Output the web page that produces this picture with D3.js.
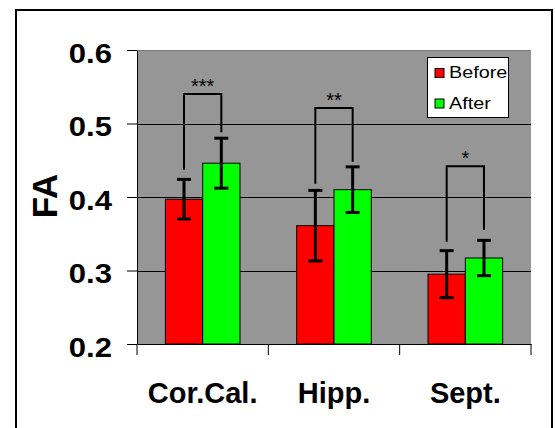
<!DOCTYPE html>
<html>
<head>
<meta charset="utf-8">
<script src="https://cdn.jsdelivr.net/npm/d3@7"></script>
<style>
  body { margin: 0; background: #fff; }
  svg { display: block; font-family: "Liberation Sans", Arial, sans-serif; }
</style>
</head>
<body>
<svg id="chart" width="555" height="428"></svg>
<script>
// chart data
var categories = ["Cor.Cal.", "Hipp.", "Sept."];
var seriesNames = ["Before", "After"];
var beforeVals = [0.397, 0.361, 0.295];
var afterVals = [0.446, 0.410, 0.317];
var beforeErr = [0.027, 0.048, 0.032];
var afterErr = [0.034, 0.031, 0.024];
var sigStars = ["***", "**", "*"];
var bracketTop = [0.540, 0.521, 0.442];
var bracketLeftEnd = [0.437, 0.418, 0.339];
var bracketRightEnd = [0.488, 0.448, 0.355];
var yTicks = [0.2, 0.3, 0.4, 0.5, 0.6];

var colors = {Before: "#ff0000", After: "#00ff00"};
var svg = d3.select("#chart");

// outer frame
svg.append("rect")
   .attr("x", 16).attr("y", 10)
   .attr("width", 536).attr("height", 440)
   .style("fill", "#fff").style("stroke", "#000").style("stroke-width", 2);

var plot = {left: 137, right: 531, top: 50, bottom: 344};

var x = d3.scaleBand().domain(categories).range([plot.left, plot.right]);
var xs = d3.scaleBand().domain(seriesNames).range([0, x.bandwidth()]).paddingOuter(0.76);
var y = d3.scaleLinear().domain([0.2, 0.6]).range([plot.bottom, plot.top]);

// plot area
svg.append("rect")
   .attr("x", plot.left).attr("y", plot.top)
   .attr("width", plot.right - plot.left).attr("height", plot.bottom - plot.top)
   .style("fill", "#969696");
svg.append("line")
   .attr("x1", plot.left).attr("x2", plot.right)
   .attr("y1", plot.top + 0.5).attr("y2", plot.top + 0.5)
   .style("stroke", "#7a7a7a");

// gridlines
svg.append("g").selectAll("line")
   .data(yTicks.filter(function(d){ return d > 0.2 && d < 0.6; }))
   .enter().append("line")
   .attr("x1", plot.left).attr("x2", plot.right)
   .attr("y1", function(d){ return Math.round(y(d)) + 0.5; })
   .attr("y2", function(d){ return Math.round(y(d)) + 0.5; })
   .style("stroke", "#000");

// rows for bars
var rows = [];
categories.forEach(function(c, i){
    rows.push({cat: c, s: "Before", v: beforeVals[i], e: beforeErr[i]});
    rows.push({cat: c, s: "After", v: afterVals[i], e: afterErr[i]});
});

var barG = svg.append("g");
barG.selectAll("rect")
    .data(rows)
    .enter().append("rect")
    .attr("x", function(d){ return x(d.cat) + xs(d.s); })
    .attr("y", function(d){ return y(d.v); })
    .attr("width", xs.bandwidth())
    .attr("height", function(d){ return y(0.2) - y(d.v); })
    .style("fill", function(d){ return colors[d.s]; })
    .style("stroke", "#000").style("stroke-width", 1);

// error bars
var cx = function(d){ return x(d.cat) + xs(d.s) + xs.bandwidth() / 2; };
var errG = svg.append("g").style("stroke", "#000").style("stroke-width", 3);
errG.selectAll(".stem").data(rows).enter().append("line")
    .attr("x1", cx).attr("x2", cx)
    .attr("y1", function(d){ return y(d.v + d.e); })
    .attr("y2", function(d){ return y(d.v - d.e); });
errG.selectAll(".capTop").data(rows).enter().append("line")
    .attr("x1", function(d){ return cx(d) - 7; }).attr("x2", function(d){ return cx(d) + 7; })
    .attr("y1", function(d){ return y(d.v + d.e); })
    .attr("y2", function(d){ return y(d.v + d.e); });
errG.selectAll(".capBot").data(rows).enter().append("line")
    .attr("x1", function(d){ return cx(d) - 7; }).attr("x2", function(d){ return cx(d) + 7; })
    .attr("y1", function(d){ return y(d.v - d.e); })
    .attr("y2", function(d){ return y(d.v - d.e); });

// significance brackets
var brG = svg.append("g");
categories.forEach(function(c, i){
    var xl = x(c) + xs("Before") + xs.bandwidth() / 2,
        xr = x(c) + xs("After") + xs.bandwidth() / 2;
    brG.append("path")
       .attr("d", "M" + xl + "," + y(bracketLeftEnd[i]) +
                  "V" + y(bracketTop[i]) + "H" + xr + "V" + y(bracketRightEnd[i]))
       .style("fill", "none").style("stroke", "#000").style("stroke-width", 2);
    brG.append("text")
       .attr("x", (xl + xr) / 2).attr("y", y(bracketTop[i]) - 1)
       .attr("text-anchor", "middle")
       .style("font-size", "20px")
       .text(sigStars[i]);
});

// y axis
var yAxis = svg.append("g")
   .attr("transform", "translate(" + plot.left + ",0)")
   .call(d3.axisLeft(y).tickValues(yTicks).tickFormat(d3.format(".1f")).tickSize(10).tickSizeOuter(0));
yAxis.select(".domain").style("stroke", "#000");
yAxis.selectAll(".tick line").style("stroke", "#000");
yAxis.selectAll(".tick text")
     .attr("x", 0).attr("dy", null)
     .attr("transform", "translate(-25,12) scale(1.15,1)")
     .style("font-size", "27px").style("font-weight", "bold")
     .style("font-family", "'Liberation Sans', Arial, sans-serif")
     .style("fill", "#000");

// x axis
var xAxis = svg.append("g")
   .attr("transform", "translate(0," + plot.bottom + ")")
   .call(d3.axisBottom(x).tickSize(0).tickSizeOuter(0).tickPadding(0));
xAxis.select(".domain").style("stroke", "#000");
xAxis.selectAll(".tick text")
     .attr("y", 59).attr("dy", null)
     .style("font-size", "29px").style("font-weight", "bold")
     .style("font-family", "'Liberation Sans', Arial, sans-serif")
     .style("fill", "#000");
var bounds = categories.map(function(c){ return x(c); }).concat([x.range()[1]]);
xAxis.selectAll(".bound").data(bounds).enter().append("line")
     .attr("x1", function(d){ return d; }).attr("x2", function(d){ return d; })
     .attr("y1", 0).attr("y2", 11)
     .style("stroke", "#000");

// y title
svg.append("text")
   .attr("transform", "translate(57,196) rotate(-90)")
   .attr("text-anchor", "middle")
   .style("font-size", "35px").style("font-weight", "bold")
   .text("FA");

// legend
var leg = svg.append("g").attr("transform", "translate(427,57)");
leg.append("rect")
   .attr("x", 0.5).attr("y", 0.5).attr("width", 81).attr("height", 60)
   .style("fill", "#fff").style("stroke", "#000");
var item = leg.selectAll(".item").data(seriesNames).enter().append("g")
   .attr("transform", function(d, i){ return "translate(8," + (11.5 + i * 30.5) + ")"; });
item.append("rect")
    .attr("width", 9).attr("height", 9)
    .style("fill", function(d){ return colors[d]; })
    .style("stroke", "#000");
item.append("text")
    .attr("transform", "translate(14,9.5) scale(1.2,1)")
    .style("font-size", "16.5px")
    .text(function(d){ return d; });
</script>
</body>
</html>
